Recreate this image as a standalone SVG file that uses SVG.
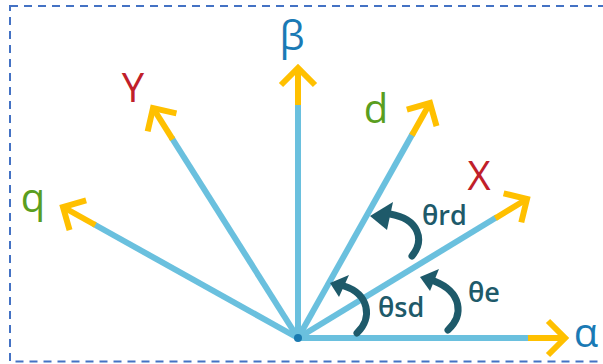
<svg xmlns="http://www.w3.org/2000/svg" width="603" height="364" viewBox="0 0 603 364">
  <style>
    .lbl { font-family: "Open Sans", "Liberation Sans", sans-serif; font-size: 40px; text-anchor: middle; }
    .th { font-family: "Open Sans", "Liberation Sans", sans-serif; font-size: 27px; font-weight: 600; fill: #1e5a6a; }
    .shaft { stroke: #6ac0de; stroke-width: 6; fill: none; }
    .tipseg { stroke: #ffc000; stroke-width: 6; fill: none; marker-end: url(#chev); }
    .arc { stroke: #1e5a6a; stroke-width: 7; fill: none; stroke-linecap: round; }
    .head { fill: #1e5a6a; }
  </style>
  <defs>
    <marker id="chev" markerUnits="userSpaceOnUse" viewBox="-22 -22 30 44" refX="0" refY="0" markerWidth="30" markerHeight="44" orient="auto" overflow="visible">
      <path d="M -17 -17 L 0 0 L -17 17" fill="none" stroke="#ffc000" stroke-width="6" stroke-linejoin="miter"/>
    </marker>
  </defs>
  <rect x="0" y="0" width="603" height="364" fill="#ffffff"/>
  <rect id="frame" x="10" y="6" width="620" height="355.5" fill="none" stroke="#4472c4" stroke-width="2" stroke-dasharray="8 6"/>

  <g id="connectors">
    <g id="axis-alpha">
      <line class="shaft" x1="298" y1="338" x2="530" y2="338"/>
      <line class="tipseg" x1="528" y1="338" x2="565" y2="338"/>
    </g>
    <g id="axis-x">
      <line class="shaft" x1="298" y1="338" x2="497" y2="217"/>
      <line class="tipseg" x1="495.4" y1="218.2" x2="527" y2="199"/>
    </g>
    <g id="axis-d">
      <line class="shaft" x1="298" y1="338" x2="413" y2="133"/>
      <line class="tipseg" x1="411.9" y1="135.3" x2="430" y2="103"/>
    </g>
    <g id="axis-beta">
      <line class="shaft" x1="298" y1="338" x2="298" y2="103"/>
      <line class="tipseg" x1="298" y1="105" x2="298" y2="68"/>
    </g>
    <g id="axis-y">
      <line class="shaft" x1="298" y1="338" x2="171.5" y2="137.5"/>
      <line class="tipseg" x1="172.7" y1="139.3" x2="153" y2="108"/>
    </g>
    <g id="axis-q">
      <line class="shaft" x1="298" y1="338" x2="93.5" y2="224"/>
      <line class="tipseg" x1="95.3" y1="225" x2="63" y2="207"/>
    </g>
    <circle id="origin" cx="298" cy="338" r="4" fill="#1a7ab0"/>
  </g>

  <g id="angle-rd">
    <path class="arc" d="M 412 256 C 425 240, 419 219, 390 214"/>
    <polygon class="head" points="370,216 393,202 387,230"/>
    <text class="th" x="422" y="225">θrd</text>
  </g>
  <g id="angle-sd">
    <path class="arc" d="M 357 333 C 373 318, 369 294, 344 286"/>
    <polygon class="head" points="330,283 349,275 339,297"/>
    <text class="th" x="378" y="317">θsd</text>
  </g>
  <g id="angle-e">
    <path class="arc" d="M 448 330 C 464 315, 462 292, 434 281"/>
    <polygon class="head" points="420,277 439,269 430,291"/>
    <text class="th" x="468" y="302">θe</text>
  </g>

  <g id="label-beta"><text class="lbl" x="292" y="50" fill="#1a7ab5">β</text></g>
  <g id="label-y"><text class="lbl" x="133" y="102" fill="#c0202a">Y</text></g>
  <g id="label-d"><text class="lbl" x="376" y="123" fill="#5a9e20">d</text></g>
  <g id="label-x"><text class="lbl" x="479" y="190" fill="#c0202a">X</text></g>
  <g id="label-q"><text class="lbl" x="33" y="212" fill="#5a9e20">q</text></g>
  <g id="label-alpha"><text class="lbl" x="586" y="347" fill="#1a7ab5">α</text></g>
</svg>
